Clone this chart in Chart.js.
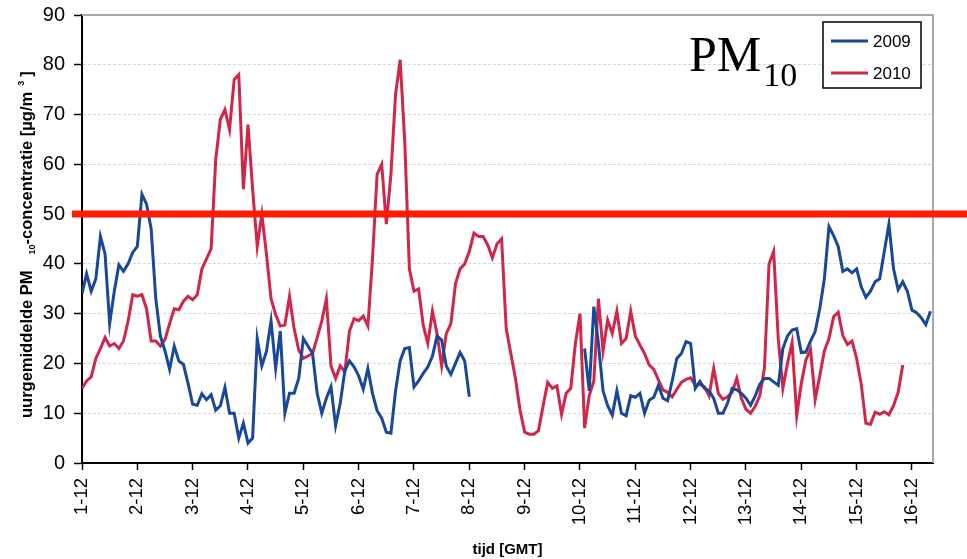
<!DOCTYPE html>
<html>
<head>
<meta charset="utf-8">
<script src="https://cdn.jsdelivr.net/npm/chart.js@4"></script>
<style>
  html, body { margin: 0; padding: 0; background: #fff; }
  canvas { display: block; }
</style>
</head>
<body>
<canvas id="chart" width="967" height="559"></canvas>
<script>
// values every 2 hours (12 per day), starting 1-12 00:00 GMT
const dayLabels = ["1-12", "2-12", "3-12", "4-12", "5-12", "6-12", "7-12", "8-12",
  "9-12", "10-12", "11-12", "12-12", "13-12", "14-12", "15-12", "16-12"];

const pm2009 = [
  34, 38, 34.5, 37, 45.5, 42, 28, 34.5, 39.8, 38.5, 40, 42.3,
  43.5, 54, 52, 47, 33, 25.5, 22.5, 18.8, 23.5, 20.5, 19.8, 16,
  11.8, 11.6, 13.9, 12.7, 13.7, 10.6, 11.5, 15.2, 10, 10, 5, 8,
  4, 5, 25, 19.5, 22.4, 28.5, 19, 26.5, 10, 14, 14, 17,
  25, 23.5, 22, 14, 10, 13, 15.3, 7.5, 12, 18.5, 20.5, 19.3,
  17.5, 14.8, 19, 14, 10.5, 9, 6.2, 6, 14.5, 20.5, 23, 23.2,
  15.3, 16.5, 18, 19.3, 21.5, 25.5, 24.7, 19.5, 17.8, 20, 22.2, 20.5,
  13.3, null, null, null, null, null, null, null, null, null, null, null,
  null, null, null, null, null, null, null, null, null, null, null, null,
  null, 23, 14.5, 31.4, 24, 14.5, 11.5, 9.6, 14.5, 10, 9.5, 13.5,
  13.2, 14, 10, 12.6, 13.2, 15.6, 13, 12.5, 16.5, 21, 22, 24.4,
  24, 15, 16.4, 15, 14.5, 13, 10, 10, 12, 15, 14.7, 14,
  13, 11.6, 13.5, 15.8, 17, 17, 16.3, 15.6, 23, 25.5, 26.7, 27,
  22.2, 22.3, 24.5, 26.4, 31, 37, 47.5, 45.7, 43.5, 38.5, 39, 38.2,
  39, 35.4, 33.3, 34.5, 36.4, 37, 42.5, 48, 39, 34.8, 36.4, 34.5,
  30.7, 30.2, 29.2, 27.8, 30.5
];

const pm2010 = [
  15, 16.5, 17.3, 21, 23, 25.2, 23.5, 24, 23, 24.5, 28.5, 33.8,
  33.5, 33.8, 31, 24.5, 24.5, 23.5, 24.8, 28, 31, 30.8, 32.5, 33.5,
  32.8, 33.8, 39, 41, 43, 60.9, 69, 71, 67, 77, 78, 55,
  68, 55, 43.5, 50, 42, 33, 29.8, 27.5, 27.7, 33.5, 27, 22.7,
  21, 21.5, 22, 25.2, 28.5, 33, 19.5, 17, 19.5, 18.3, 26.5, 29,
  28.6, 29.5, 27.5, 41, 58, 60, 48, 58, 74, 81, 64.5, 39,
  34.5, 35, 27.7, 24, 30.5, 26, 19.5, 26, 28, 36, 39, 40,
  42.5, 46.2, 45.5, 45.5, 43.8, 41.2, 44, 45, 27, 22, 17, 10.6,
  6.2, 5.8, 5.8, 6.5, 11.5, 16.2, 15, 15.5, 9.8, 14, 15, 24,
  30, 7, 13.5, 16.5, 33, 22.5, 28.7, 26, 30.5, 24, 25, 30.5,
  25.5, 23.7, 22, 19.7, 18.8, 16.7, 14.7, 14.2, 13.3, 14.8, 16.2, 16.8,
  17.1, 15.6, 15.8, 15.3, 13.5, 19, 14, 12.8, 13.3, 14.2, 17, 13,
  10.8, 10, 11.4, 13.5, 19, 40, 42.5, 25, 15, 20, 24.2, 9.5,
  16, 20.7, 22.8, 12.7, 17.5, 22.5, 25, 29.4, 30.3, 25.6, 23.8, 24.5,
  21, 15.8, 8, 7.8, 10.2, 9.8, 10.3, 9.7, 11.5, 14.2, 19.7
];

const seriesNames = ["2009", "2010"];
const seriesColors = ["#19489a", "#d0264a"];
const limitValue = 50;   // daggrens PM10
const stepsPerDay = 12;
const lastDay = 15.38;

const font = '"Liberation Sans", Arial, sans-serif';

function toPoints(values) {
  return values.map((v, i) => ({ x: i / stepsPerDay, y: v }));
}

const decorations = {
  id: "decorations",
  afterDatasetsDraw(chart) {
    const { ctx, chartArea: a, scales: { y } } = chart;
    ctx.save();

    // grey frame on top and right
    ctx.strokeStyle = "#a8a8a8";
    ctx.lineWidth = 2;
    ctx.beginPath();
    ctx.moveTo(a.left, a.top);
    ctx.lineTo(a.right, a.top);
    ctx.lineTo(a.right, a.bottom);
    ctx.stroke();

    // limit value line
    const ly = y.getPixelForValue(limitValue);
    ctx.strokeStyle = "#ff1a00";
    ctx.lineWidth = 7;
    ctx.beginPath();
    ctx.moveTo(a.left - 10, ly);
    ctx.lineTo(chart.width, ly);
    ctx.stroke();

    // PM10 label
    ctx.fillStyle = "#000";
    ctx.textBaseline = "alphabetic";
    ctx.textAlign = "left";
    ctx.font = '50px "Liberation Serif", "Times New Roman", serif';
    const px = 689;
    ctx.fillText("PM", px, 71);
    const pw = ctx.measureText("PM").width;
    ctx.font = '34px "Liberation Serif", "Times New Roman", serif';
    ctx.fillText("10", px + pw + 2, 86);

    // legend
    const lx = a.right - 110, ly0 = a.top + 7, lw = 98, lh = 66;
    ctx.fillStyle = "#fff";
    ctx.fillRect(lx, ly0, lw, lh);
    ctx.strokeStyle = "#000";
    ctx.lineWidth = 1.5;
    ctx.strokeRect(lx, ly0, lw, lh);
    ctx.font = "17px " + font;
    ctx.textBaseline = "middle";
    chart.data.datasets.forEach((ds, i) => {
      const rowY = ly0 + 19 + i * 32;
      ctx.strokeStyle = ds.borderColor;
      ctx.lineWidth = 3;
      ctx.beginPath();
      ctx.moveTo(lx + 8, rowY);
      ctx.lineTo(lx + 45, rowY);
      ctx.stroke();
      ctx.fillStyle = "#000";
      ctx.fillText(ds.label, lx + 50, rowY + 1);
    });
    ctx.restore();
  },
  afterDraw(chart) {
    // y axis title with sub- and superscript
    const ctx = chart.ctx;
    const big = "bold 16.5px " + font;
    const small = "bold 9px " + font;
    const parts = [
      ["uurgemiddelde PM", big, 0, 0],
      ["10", small, 3, 16],
      ["-concentratie [µg/m", big, 0, 0],
      ["3", small, -8, 6],
      ["]", big, 0, 4]
    ];
    ctx.save();
    ctx.translate(32, 418);
    ctx.rotate(-Math.PI / 2);
    ctx.fillStyle = "#000";
    ctx.textBaseline = "alphabetic";
    ctx.textAlign = "left";
    let x = 0;
    parts.forEach(([t, f, dy, gap]) => {
      ctx.font = f;
      x += gap;
      ctx.fillText(t, x, dy);
      x += ctx.measureText(t).width;
    });
    ctx.restore();
  }
};

new Chart(document.getElementById("chart"), {
  type: "line",
  data: {
    datasets: [
      {
        label: seriesNames[0],
        data: toPoints(pm2009),
        borderColor: seriesColors[0],
        borderWidth: 3,
        pointRadius: 0,
        tension: 0,
        spanGaps: false
      },
      {
        label: seriesNames[1],
        data: toPoints(pm2010),
        borderColor: seriesColors[1],
        borderWidth: 3,
        pointRadius: 0,
        tension: 0,
        spanGaps: false
      }
    ]
  },
  options: {
    responsive: false,
    animation: false,
    layout: { padding: { top: 15, right: 34, left: 0, bottom: 0 } },
    plugins: {
      legend: { display: false },
      tooltip: { enabled: false }
    },
    scales: {
      x: {
        type: "linear",
        min: 0,
        max: lastDay,
        afterBuildTicks: scale => {
          scale.ticks = dayLabels.map((_, i) => ({ value: i }));
        },
        afterFit: scale => {
          scale.height = 96;
          scale.paddingLeft = 0;
          scale.paddingRight = 0;
        },
        ticks: {
          autoSkip: false,
          minRotation: 90,
          maxRotation: 90,
          padding: 8,
          color: "#000",
          font: { family: font, size: 18.5 },
          callback: (v, i) => dayLabels[i]
        },
        grid: {
          drawOnChartArea: false,
          drawTicks: true,
          tickLength: 7,
          tickColor: "#000",
          tickWidth: 1.5
        },
        border: { color: "#000", width: 2 },
        title: {
          display: true,
          text: "tijd [GMT]",
          color: "#000",
          font: { family: font, size: 15, weight: "bold" },
          padding: { top: 0, bottom: 0 }
        }
      },
      y: {
        min: 0,
        max: 90,
        afterFit: scale => {
          scale.width = 82;
          scale.paddingTop = 0;
          scale.paddingBottom = 0;
        },
        ticks: {
          stepSize: 10,
          padding: 9,
          color: "#000",
          font: { family: font, size: 20 }
        },
        grid: {
          color: "#d8d8d8",
          lineWidth: 1,
          tickLength: 8,
          tickColor: "#000",
          tickWidth: 1.5
        },
        border: { color: "#000", width: 2, dash: [3, 2] }
      }
    }
  },
  plugins: [decorations]
});
</script>
</body>
</html>
